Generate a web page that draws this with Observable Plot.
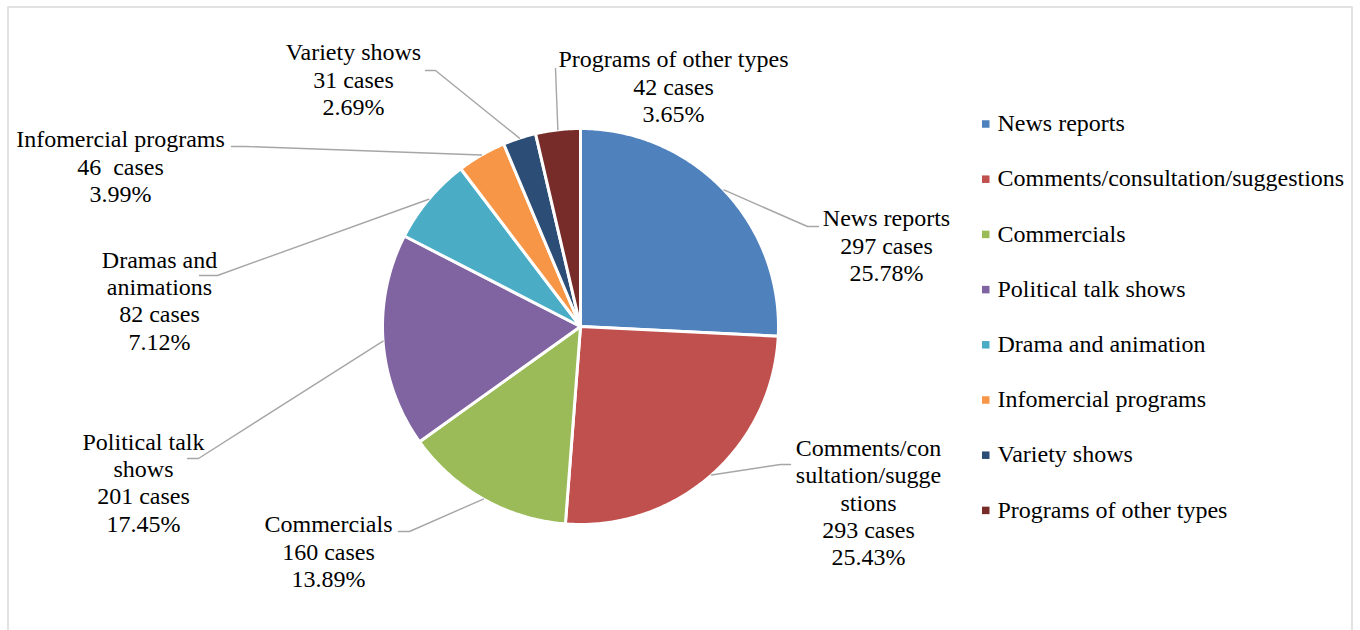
<!DOCTYPE html>
<html>
<head>
<meta charset="utf-8">
<script src="https://cdn.jsdelivr.net/npm/d3@7"></script>
<script src="https://cdn.jsdelivr.net/npm/@observablehq/plot@0.6"></script>
</head>
<body style="margin:0;background:#fff">
<div id="chart"></div>
<script>
// ---- Data ----
const categories = [
  "News reports",
  "Comments/consultation/suggestions",
  "Commercials",
  "Political talk shows",
  "Drama and animation",
  "Infomercial programs",
  "Variety shows",
  "Programs of other types"
];
const cases = [297, 293, 160, 201, 82, 46, 31, 42];
const percentLabels = ["25.78%", "25.43%", "13.89%", "17.45%", "7.12%", "3.99%", "2.69%", "3.65%"];
const caseLabels = ["297 cases", "293 cases", "160 cases", "201 cases", "82 cases", "46\u00a0 cases", "31 cases", "42 cases"];
const sliceNames = [
  "News reports",
  "Comments/con\nsultation/sugge\nstions",
  "Commercials",
  "Political talk\nshows",
  "Dramas and\nanimations",
  "Infomercial programs",
  "Variety shows",
  "Programs of other types"
];
const colors = ["#4F81BD", "#C0504D", "#9BBB59", "#8064A2", "#4BACC6", "#F79646", "#2C4D75", "#772C2A"];

// ---- Layout (positions only) ----
const W = 1360, H = 630;
const pie = {cx: 580, cy: 326, r: 198};
const labelLayout = [
  {x: 886, y: 246, path: [[807, 226], [818, 226]]},
  {x: 868, y: 503, path: [[780, 464], [790, 464]]},
  {x: 328, y: 552, path: [[409, 531], [398, 531]]},
  {x: 143, y: 483, path: [[198, 458], [187, 458]]},
  {x: 159, y: 301, path: [[217, 275], [199, 275]]},
  {x: 120, y: 167, path: [[245, 146], [231, 146]]},
  {x: 353, y: 80, path: [[435, 70], [425, 70]]},
  {x: 673, y: 87, path: [[555, 68]]}
];
const legendLayout = {xSquare: 982, side: 7.5, xText: 997, y0: 124, dy: 55.2};
const labelFontSize = 24;
const serifFamily = "Liberation Serif";

// ---- Derived geometry ----
const total = d3.sum(cases);
let acc = 0;
const slices = cases.map((v, i) => {
  const a0 = acc / total * 2 * Math.PI;
  acc += v;
  const a1 = acc / total * 2 * Math.PI;
  return {i, name: categories[i], a0, a1};
});
const pt = (a, rr = pie.r) => [pie.cx + rr * Math.sin(a), pie.cy - rr * Math.cos(a)];

const slicePts = [];
for (const s of slices) {
  const n = Math.max(8, Math.ceil((s.a1 - s.a0) / 0.01));
  slicePts.push({name: s.name, x: pie.cx, y: pie.cy});
  for (let k = 0; k <= n; k++) {
    const [x, y] = pt(s.a0 + (s.a1 - s.a0) * k / n);
    slicePts.push({name: s.name, x, y});
  }
  slicePts.push({name: s.name, x: pie.cx, y: pie.cy});
}

const leaderPts = [];
slices.forEach((s, i) => {
  const [x, y] = pt((s.a0 + s.a1) / 2);
  leaderPts.push({k: i, x, y});
  for (const [px, py] of labelLayout[i].path) leaderPts.push({k: i, x: px, y: py});
});

const labels = slices.map((s, i) => ({
  x: labelLayout[i].x, y: labelLayout[i].y,
  text: sliceNames[i] + "\n" + caseLabels[i] + "\n" + percentLabels[i]
}));

const legend = categories.map((c, i) => ({
  name: c,
  y: legendLayout.y0 + i * legendLayout.dy
}));

const chart = Plot.plot({
  width: W, height: H,
  margin: 0,
  x: {domain: [0, W], range: [0, W], axis: null},
  y: {domain: [0, H], range: [0, H], axis: null},
  color: {domain: categories, range: colors},
  marks: [
    Plot.rect([{}], {x1: 8, x2: 1352, y1: 7, y2: 660, fill: "none", stroke: "#d9d9d9", strokeWidth: 1.5}),
    Plot.line(slicePts, {x: "x", y: "y", z: "name", fill: "name", stroke: "#fff", strokeWidth: 3, strokeLinejoin: "round"}),
    Plot.line(leaderPts, {x: "x", y: "y", z: "k", stroke: "#a6a6a6", strokeWidth: 1.4}),
    Plot.text(labels, {x: "x", y: "y", text: "text", fontFamily: serifFamily, fontSize: labelFontSize, lineHeight: 1.14, dy: -1.5, fill: "#000", textAnchor: "middle"}),
    Plot.rect(legend, {
      x1: () => legendLayout.xSquare, x2: () => legendLayout.xSquare + legendLayout.side,
      y1: d => d.y - legendLayout.side / 2, y2: d => d.y + legendLayout.side / 2,
      fill: "name"
    }),
    Plot.text(legend, {x: () => legendLayout.xText, y: "y", text: "name", textAnchor: "start", dy: -1, fontFamily: serifFamily, fontSize: labelFontSize, fill: "#000"})
  ]
});
document.getElementById("chart").appendChild(chart);
</script>
</body>
</html>
